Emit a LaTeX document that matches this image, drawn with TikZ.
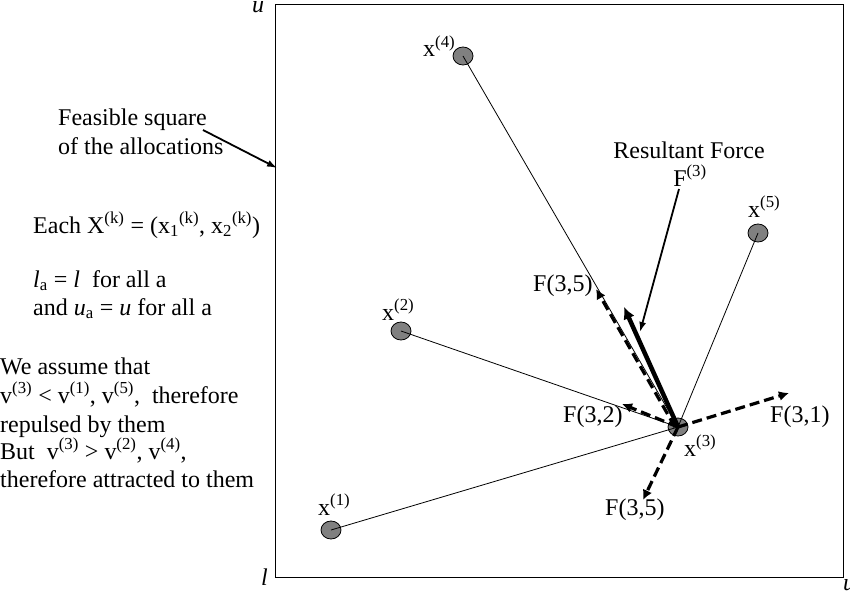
\documentclass[tikz,border=0pt]{standalone}
\usepackage{fontspec}
\setmainfont{Liberation Serif}
\usetikzlibrary{arrows.meta,shapes.geometric}
\begin{document}
\begin{tikzpicture}[x=1pt,y=-1pt,
  txt/.style={inner sep=0pt,font=\fontsize{24}{28}\selectfont},
  lab/.style={txt,anchor=base west},
  ctr/.style={txt,anchor=base},
  pt/.style={ellipse,draw=black,line width=0.8pt,fill=gray,minimum width=20pt,minimum height=18pt,inner sep=0pt},
  link/.style={line width=0.8pt},
  force/.style={line width=3.2pt,dash pattern=on 10pt off 5pt,-{Latex[length=10pt,width=10pt]}},
  result/.style={line width=4.5pt,-{Latex[length=12pt,width=12pt]}},
  pointer/.style={line width=1.8pt,-{Latex[length=10pt,width=7pt]}}]
\useasboundingbox (0,0) rectangle (850,591);
% feasible square
\draw[line width=1pt] (275,5) rectangle (843,577);
\node[lab,font=\fontsize{24}{28}\selectfont\itshape] (utop) at (252,13) {u};
\node[lab,font=\fontsize{24}{28}\selectfont\itshape] (lbot) at (261,585) {l};
\node[lab,font=\fontsize{24}{28}\selectfont\itshape] (ubot) at (843,590) {u};
% left texts
\node[lab] (fs1) at (58,125) {Feasible square};
\node[lab] (fs2) at (58,154) {of the allocations};
\coordinate (fsA) at (203,130);
\coordinate (fsB) at (277,168);
\draw[pointer] (fsA) -- (fsB);
\node[lab] (each) at (33,233) {Each X\textsuperscript{(k)} = (x\textsubscript{1}\textsuperscript{(k)}, x\textsubscript{2}\textsuperscript{(k)})};
\node[lab] (la) at (33,287) {\textit{l}\textsubscript{a} = \textit{l}\ \ for all a};
\node[lab] (ua) at (33,315) {and \textit{u}\textsubscript{a} = \textit{u} for all a};
\node[lab] (w1) at (0,374) {We assume that};
\node[lab] (w2) at (0,403) {v\textsuperscript{(3)} < v\textsuperscript{(1)}, v\textsuperscript{(5)},\ \ therefore};
\node[lab] (w3) at (0,432) {repulsed by them};
\node[lab] (w4) at (0,459) {But\ \ v\textsuperscript{(3)} > v\textsuperscript{(2)}, v\textsuperscript{(4)},};
\node[lab] (w5) at (0,487) {therefore attracted to them};
% points
\node[pt] (x1) at (331,530) {};
\node[pt] (x2) at (401,331) {};
\node[pt] (x3) at (678,427) {};
\node[pt] (x4) at (463,56) {};
\node[pt] (x5) at (758,233) {};
\node[lab] (l1) at (318,515) {x\textsuperscript{(1)}};
\node[lab] (l2) at (382,320) {x\textsuperscript{(2)}};
\node[lab] (l3) at (684,456) {x\textsuperscript{(3)}};
\node[lab] (l4) at (423,57) {x\textsuperscript{(4)}};
\node[lab] (l5) at (748,217) {x\textsuperscript{(5)}};
% links
\draw[link] (x3.center) -- (x1.center);
\draw[link] (x3.center) -- (x2.center);
\draw[link] (x3.center) -- (x4.center);
\draw[link] (x3.center) -- (x5.center);
% forces
\coordinate (t4) at (596,289);
\coordinate (tr) at (624,307);
\coordinate (t2) at (622,404);
\coordinate (t1) at (789,393);
\coordinate (t5) at (643,500);
\draw[force] ([xshift=-3pt]x3.center) -- (t4);
\draw[force] (x3.center) -- (t2);
\draw[force] (x3.center) -- (t1);
\draw[force] (x3.center) -- (t5);
\draw[result] (x3.center) -- (tr);
\node[lab] (f35a) at (533,291) {F(3,5)};
\node[lab] (f32) at (563,422) {F(3,2)};
\node[lab] (f31) at (770,422) {F(3,1)};
\node[lab] (f35b) at (605,515) {F(3,5)};
% resultant label
\node[ctr] (rf) at (689,158) {Resultant Force};
\node[ctr] (f3) at (690,186) {F\textsuperscript{(3)}};
\coordinate (rpA) at (679,189);
\coordinate (rpB) at (640,332);
\draw[pointer] (rpA) -- (rpB);
\end{tikzpicture}
\end{document}
